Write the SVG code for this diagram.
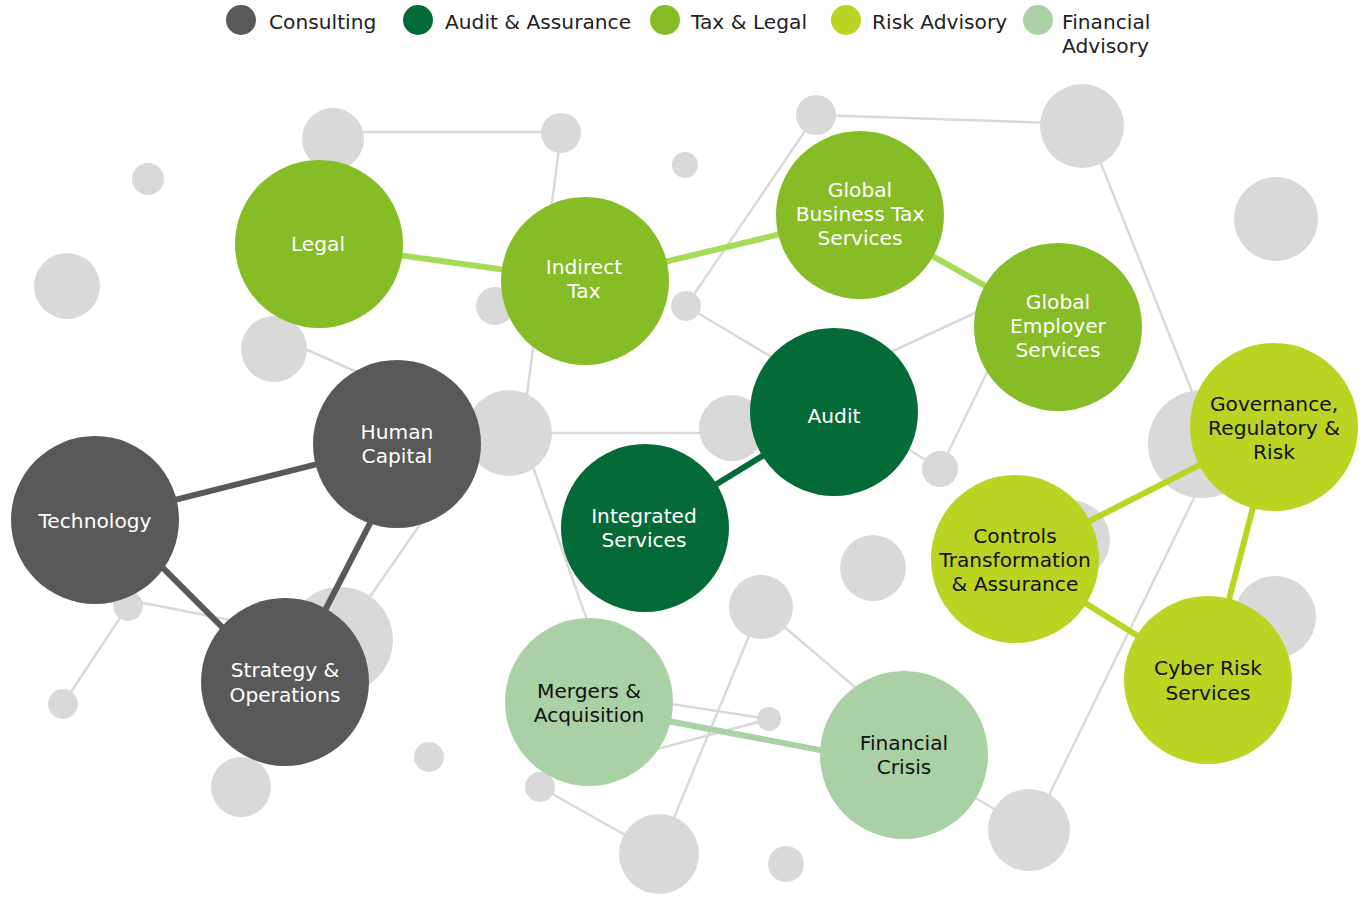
<svg xmlns="http://www.w3.org/2000/svg" width="1363" height="899" viewBox="0 0 1363 899">
<style>
text{font-family:"DejaVu Sans","Liberation Sans",sans-serif;font-size:20.2px;text-anchor:middle}
.lg{text-anchor:start;fill:#222}
.w{fill:#ffffff}.k{fill:#111111}
.g{stroke:#D9D9D9;stroke-width:2.5;fill:none}
.b{fill:#D9D9D9}
.c{stroke-width:6;fill:none}
.con{fill:#595959}.aud{fill:#046A38}.tax{fill:#86BC25}.risk{fill:#BBD323}.fin{fill:#AAD1A5}
</style>
<rect width="1363" height="899" fill="#ffffff"/>
<g id="legend">
<circle class="con" cx="241" cy="20" r="15"/><text class="lg" x="269" y="29">Consulting</text>
<circle class="aud" cx="418" cy="20" r="15"/><text class="lg" x="445" y="29">Audit &amp; Assurance</text>
<circle class="tax" cx="665" cy="20" r="15"/><text class="lg" x="691" y="29">Tax &amp; Legal</text>
<circle class="risk" cx="846" cy="20" r="15"/><text class="lg" x="872" y="29">Risk Advisory</text>
<circle class="fin" cx="1038" cy="20" r="15"/><text class="lg" x="1062" y="29">Financial</text><text class="lg" x="1062" y="53">Advisory</text>
</g>
<g id="background-links">
<path class="g" d="M333,132 H561"/>
<path class="g" d="M561,133 L522,433"/>
<path class="g" d="M509,433 H732"/>
<path class="g" d="M520,430 L594,640"/>
<path class="g" d="M274,335 L397,390"/>
<path class="g" d="M430,510 L340,640"/>
<path class="g" d="M128,600 L230,620"/>
<path class="g" d="M128,606 L63,704"/>
<path class="g" d="M686,306 L816,115"/>
<path class="g" d="M816,115 L1082,124"/>
<path class="g" d="M686,306 L800,374"/>
<path class="g" d="M1086,126 L1213,444"/>
<path class="g" d="M1215,455 L1032,830"/>
<path class="g" d="M880,357 L990,306"/>
<path class="g" d="M940,469 L995,356"/>
<path class="g" d="M870,425 L940,469"/>
<path class="g" d="M761,607 L870,700"/>
<path class="g" d="M761,607 L659,854"/>
<path class="g" d="M600,693 L769,719"/>
<path class="g" d="M769,719 L620,759"/>
<path class="g" d="M540,787 L659,854"/>
<path class="g" d="M904,755 L1029,830"/>
</g>
<g id="background-dots">
<circle class="b" cx="333" cy="139" r="31"/>
<circle class="b" cx="561" cy="133" r="20"/>
<circle class="b" cx="148" cy="179" r="16"/>
<circle class="b" cx="67" cy="286" r="33"/>
<circle class="b" cx="274" cy="349" r="33"/>
<circle class="b" cx="495" cy="306" r="19"/>
<circle class="b" cx="685" cy="165" r="13"/>
<circle class="b" cx="686" cy="306" r="15"/>
<circle class="b" cx="816" cy="115" r="20"/>
<circle class="b" cx="1082" cy="126" r="42"/>
<circle class="b" cx="1276" cy="219" r="42"/>
<circle class="b" cx="509" cy="433" r="43"/>
<circle class="b" cx="732" cy="428" r="33"/>
<circle class="b" cx="940" cy="469" r="18"/>
<circle class="b" cx="1202" cy="444" r="54"/>
<circle class="b" cx="1070" cy="540" r="40"/>
<circle class="b" cx="1275" cy="617" r="41"/>
<circle class="b" cx="340" cy="640" r="53"/>
<circle class="b" cx="128" cy="606" r="15"/>
<circle class="b" cx="63" cy="704" r="15"/>
<circle class="b" cx="241" cy="787" r="30"/>
<circle class="b" cx="429" cy="757" r="15"/>
<circle class="b" cx="540" cy="787" r="15"/>
<circle class="b" cx="659" cy="854" r="40"/>
<circle class="b" cx="761" cy="607" r="32"/>
<circle class="b" cx="769" cy="719" r="12"/>
<circle class="b" cx="873" cy="568" r="33"/>
<circle class="b" cx="786" cy="864" r="18"/>
<circle class="b" cx="1029" cy="830" r="41"/>
</g>
<g id="connectors">
<path class="c" stroke="#A6DB55" d="M319,244 L585,281"/>
<path class="c" stroke="#A6DB55" d="M585,281 L860,215"/>
<path class="c" stroke="#A6DB55" d="M860,215 L1058,327"/>
<path class="c" stroke="#046A38" d="M834,412 L645,528"/>
<path class="c" stroke="#595959" d="M397,444 L95,520"/>
<path class="c" stroke="#595959" d="M411,444 L288,682"/>
<path class="c" stroke="#595959" d="M95,500 L285,690"/>
<path class="c" stroke="#AAD1A5" d="M589,706 L904,766"/>
<path class="c" stroke="#BBD323" d="M1015,559 L1274,427"/>
<path class="c" stroke="#BBD323" d="M1274,427 L1208,680"/>
<path class="c" stroke="#BBD323" d="M1015,559 L1208,680"/>
</g>
<g id="legal"><circle class="tax" cx="319" cy="244" r="84"/><text class="w" x="318" y="251">Legal</text></g>
<g id="indirect-tax"><circle class="tax" cx="585" cy="281" r="84"/><text class="w" x="584" y="274">Indirect</text><text class="w" x="584" y="298">Tax</text></g>
<g id="global-business-tax"><circle class="tax" cx="860" cy="215" r="84"/><text class="w" x="860" y="197">Global</text><text class="w" x="860" y="221">Business Tax</text><text class="w" x="860" y="245">Services</text></g>
<g id="global-employer"><circle class="tax" cx="1058" cy="327" r="84"/><text class="w" x="1058" y="309">Global</text><text class="w" x="1058" y="333">Employer</text><text class="w" x="1058" y="357">Services</text></g>
<g id="audit"><circle class="aud" cx="834" cy="412" r="84"/><text class="w" x="834" y="423">Audit</text></g>
<g id="integrated-services"><circle class="aud" cx="645" cy="528" r="84"/><text class="w" x="644" y="523">Integrated</text><text class="w" x="644" y="547">Services</text></g>
<g id="human-capital"><circle class="con" cx="397" cy="444" r="84"/><text class="w" x="397" y="439">Human</text><text class="w" x="397" y="463">Capital</text></g>
<g id="technology"><circle class="con" cx="95" cy="520" r="84"/><text class="w" x="95" y="528">Technology</text></g>
<g id="strategy-operations"><circle class="con" cx="285" cy="682" r="84"/><text class="w" x="285" y="677">Strategy &amp;</text><text class="w" x="285" y="702">Operations</text></g>
<g id="mergers-acquisition"><circle class="fin" cx="589" cy="702" r="84"/><text class="k" x="589" y="698">Mergers &amp;</text><text class="k" x="589" y="722">Acquisition</text></g>
<g id="financial-crisis"><circle class="fin" cx="904" cy="755" r="84"/><text class="k" x="904" y="750">Financial</text><text class="k" x="904" y="774">Crisis</text></g>
<g id="controls-transformation"><circle class="risk" cx="1015" cy="559" r="84"/><text class="k" x="1015" y="543">Controls</text><text class="k" x="1015" y="567">Transformation</text><text class="k" x="1015" y="591">&amp; Assurance</text></g>
<g id="governance-regulatory-risk"><circle class="risk" cx="1274" cy="427" r="84"/><text class="k" x="1274" y="411">Governance,</text><text class="k" x="1274" y="435">Regulatory &amp;</text><text class="k" x="1274" y="459">Risk</text></g>
<g id="cyber-risk"><circle class="risk" cx="1208" cy="680" r="84"/><text class="k" x="1208" y="675">Cyber Risk</text><text class="k" x="1208" y="700">Services</text></g>
</svg>
